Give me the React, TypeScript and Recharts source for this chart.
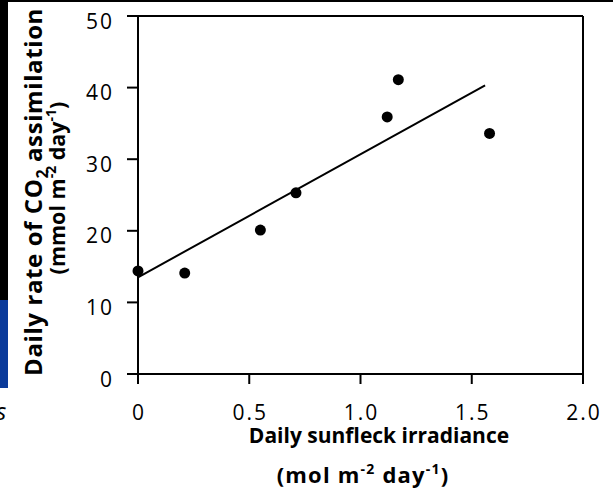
import React from 'react';
import { ScatterChart, Scatter, XAxis, YAxis, ReferenceLine, Label } from 'recharts';

const irradiance = [0, 0.21, 0.55, 0.71, 1.12, 1.17, 1.58];
const assimilation = [14.4, 14.1, 20.1, 25.3, 35.9, 41.1, 33.6];
const trendX = [0, 1.56];
const trendY = [13.5, 40.3];
const xTicks = [0, 0.5, 1, 1.5, 2];
const xTickLabels = ['0', '0.5', '1.0', '1.5', '2.0'];
const yTicks = [0, 10, 20, 30, 40, 50];

const points = irradiance.map((x, i) => ({ x, y: assimilation[i] }));
const trend = trendX.map((x, i) => ({ x, y: trendY[i] }));

const FONT = '"Open Sans", "Noto Sans", sans-serif';

const YTick = (props: any) => {
  const { x, y, payload } = props;
  return (
    <text x={x - 1} y={y + 12.5} textAnchor="end" fontFamily={FONT} fontSize={21} letterSpacing={2} fill="#000">
      {payload.value}
    </text>
  );
};

const XTick = (props: any) => {
  const { x, y, payload } = props;
  const idx = xTicks.indexOf(payload.value);
  return (
    <text x={x + 1} y={y + 36} textAnchor="middle" fontFamily={FONT} fontSize={21} letterSpacing={2} fill="#000">
      {idx >= 0 ? xTickLabels[idx] : payload.value}
    </text>
  );
};

const XTitle = () => (
  <g fontFamily={FONT} fontWeight={700} fill="#000">
    <text x={379} y={443} textAnchor="middle" fontSize={21}>Daily sunfleck irradiance</text>
    <text x={363} y={483} textAnchor="middle" fontSize={22} letterSpacing={1.2}>
      (mol m<tspan fontSize={14} dy={-9}>-2</tspan>
      <tspan dy={9}> day</tspan>
      <tspan fontSize={14} dy={-9}>-1</tspan>
      <tspan dy={9}>)</tspan>
    </text>
  </g>
);

const YTitle = () => (
  <g fontFamily={FONT} fontWeight={700} fill="#000">
    <text transform="translate(42,192) rotate(-90)" textAnchor="middle" fontSize={24} letterSpacing={0.6}>
      Daily rate of CO<tspan fontSize={16} dy={6}>2</tspan>
      <tspan dy={-6}> assimilation</tspan>
    </text>
    <text transform="translate(65,188) rotate(-90)" textAnchor="middle" fontSize={21.5}>
      (mmol m<tspan fontSize={14} dy={-9}>-2</tspan>
      <tspan dy={9}> day</tspan>
      <tspan fontSize={14} dy={-9}>-1</tspan>
      <tspan dy={9}>)</tspan>
    </text>
  </g>
);

const Dot = (props: any) => <circle cx={props.cx} cy={props.cy} r={5.5} fill="#000" />;
const NoDot = () => <g />;

export default function App() {
  return (
    <div style={{ position: 'absolute', left: 0, top: 0, width: 613, height: 490, background: '#fff', overflow: 'hidden' }}>
      <div style={{ position: 'absolute', left: 0, top: 0, width: 613, height: 2, background: '#000' }} />
      <div style={{ position: 'absolute', left: 0, top: 0, width: 8, height: 300, background: '#000' }} />
      <div style={{ position: 'absolute', left: 0, top: 300, width: 8, height: 88, background: '#0a3a9a' }} />
      <div style={{ position: 'absolute', left: -4, top: 394, fontFamily: FONT, fontStyle: 'italic', fontSize: 24, color: '#000' }}>s</div>
      <ScatterChart width={613} height={490} margin={{ top: 16, right: 30, bottom: 0, left: 0 }} style={{ position: 'absolute', left: 0, top: 0 }}>
        <XAxis
          type="number"
          dataKey="x"
          domain={[0, 2]}
          ticks={xTicks}
          height={116}
          tickSize={10}
          tickMargin={0}
          tick={<XTick />}
          axisLine={{ stroke: '#000', strokeWidth: 2 }}
          tickLine={{ stroke: '#000', strokeWidth: 2 }}
        >
          <Label content={<XTitle />} />
        </XAxis>
        <YAxis
          type="number"
          dataKey="y"
          domain={[0, 50]}
          ticks={yTicks}
          width={138}
          tickSize={11}
          tickMargin={12}
          tick={<YTick />}
          axisLine={{ stroke: '#000', strokeWidth: 2 }}
          tickLine={{ stroke: '#000', strokeWidth: 2 }}
        >
          <Label content={<YTitle />} />
        </YAxis>
        <ReferenceLine y={50} stroke="#000" strokeWidth={2} />
        <ReferenceLine x={2} stroke="#000" strokeWidth={2} />
        <Scatter data={trend} line={{ stroke: '#000', strokeWidth: 2 }} shape={<NoDot />} isAnimationActive={false} />
        <Scatter data={points} shape={<Dot />} isAnimationActive={false} />
      </ScatterChart>
    </div>
  );
}
